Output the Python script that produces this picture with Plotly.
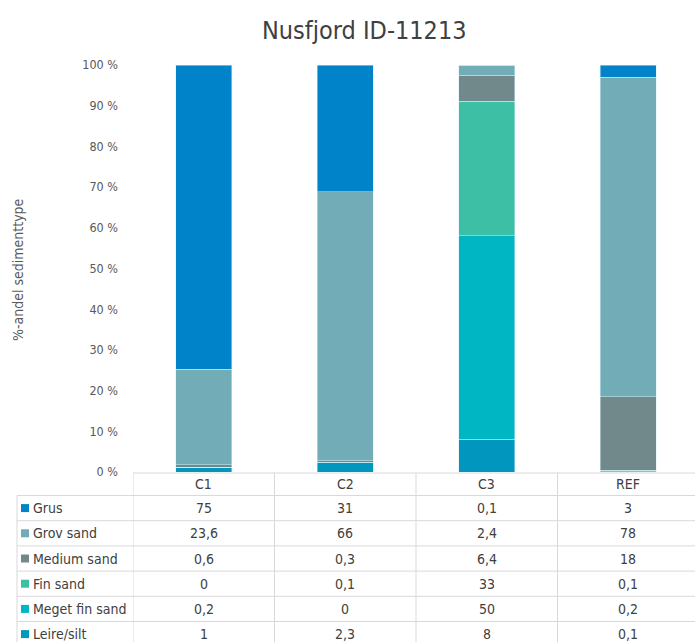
import plotly.graph_objects as go

# Sediment composition per station (percent)
stations = ["C1", "C2", "C3", "REF"]
series_names = ["Grus", "Grov sand", "Medium sand", "Fin sand", "Meget fin sand", "Leire/silt"]
grus = [75, 31, 0.1, 3]
grov_sand = [23.6, 66, 2.4, 78]
medium_sand = [0.6, 0.3, 6.4, 18]
fin_sand = [0, 0.1, 33, 0.1]
meget_fin_sand = [0.2, 0, 50, 0.2]
leire_silt = [1, 2.3, 8, 0.1]
y_ticks = [0, 10, 20, 30, 40, 50, 60, 70, 80, 90, 100]
y_tick_labels = [f"{t} %" for t in y_ticks]

values = {
    "Grus": grus,
    "Grov sand": grov_sand,
    "Medium sand": medium_sand,
    "Fin sand": fin_sand,
    "Meget fin sand": meget_fin_sand,
    "Leire/silt": leire_silt,
}
colors = {
    "Grus": "#0083C8",
    "Grov sand": "#72ADB7",
    "Medium sand": "#71898A",
    "Fin sand": "#3DBFA5",
    "Meget fin sand": "#00B6C3",
    "Leire/silt": "#0096BE",
}

W, H = 695, 642
FONT = "DejaVu Sans Condensed, Liberation Sans Narrow, Liberation Sans, Arial"


def px(x):
    return x / W


def py(y):
    return 1 - y / H


fig = go.Figure()
# stacking order from the bottom up
for name in reversed(series_names):
    fig.add_trace(go.Bar(
        x=stations, y=values[name], name=name,
        marker=dict(color=colors[name], line=dict(color="rgba(215,238,248,0.8)", width=0.6)),
        showlegend=False,
    ))

plot_left, plot_top, plot_bottom = 133, 65, 472
col_w = 141.5
x_end = -0.5 + (W - plot_left) / col_w

fig.update_layout(
    template="none",
    width=W, height=H, autosize=False,
    margin=dict(l=0, r=0, t=0, b=0, pad=0),
    paper_bgcolor="white", plot_bgcolor="white",
    barmode="stack", barnorm="percent", bargap=0.604,
    font=dict(family=FONT, color="#595959", size=13),
    xaxis=dict(domain=[px(plot_left), 1], range=[-0.5, x_end], showticklabels=False,
               automargin=False, showgrid=False, zeroline=False, showline=False, ticks=""),
    yaxis=dict(domain=[py(plot_bottom), py(plot_top)], range=[0, 100], tickmode="array",
               tickvals=y_ticks, ticktext=y_tick_labels, automargin=False, showgrid=False,
               zeroline=False, showline=False, ticks="", ticklabelstandoff=14,
               tickfont=dict(size=12.5, color="#595959")),
)

annotations = []
shapes = []

# chart title and axis title
annotations.append(dict(text="Nusfjord ID-11213", x=px(365), y=py(30), xref="paper", yref="paper",
                        xanchor="center", yanchor="middle", showarrow=False,
                        font=dict(size=25, color="#404040", family=FONT)))
annotations.append(dict(text="%-andel sedimenttype", x=px(18), y=py(270), xref="paper", yref="paper",
                        xanchor="center", yanchor="middle", textangle=-90, showarrow=False,
                        font=dict(size=14, color="#595959", family=FONT)))

# data table under the bars
grid = "#d9d9d9"
header_top, header_bot = 473, 495.5
row_h = 25.2
row_tops = [header_bot + i * row_h for i in range(len(series_names))]
label_left = 17

shapes.append(dict(type="line", xref="x", yref="paper", x0=-0.5, x1=x_end + 0.1,
                   y0=py(header_top), y1=py(header_top), line=dict(color=grid, width=1)))
for yt in row_tops:
    shapes.append(dict(type="line", xref="paper", yref="paper", x0=px(label_left), x1=1,
                       y0=py(yt), y1=py(yt), line=dict(color=grid, width=1)))
shapes.append(dict(type="line", xref="paper", yref="paper", x0=px(label_left), x1=px(label_left),
                   y0=py(header_bot), y1=0, line=dict(color=grid, width=1)))
for i in range(len(stations)):
    shapes.append(dict(type="line", xref="x", yref="paper", x0=i - 0.5, x1=i - 0.5,
                       y0=py(header_top), y1=0, line=dict(color=grid, width=1)))

for i, st in enumerate(stations):
    annotations.append(dict(text=st, x=i, y=py((header_top + header_bot) / 2), xref="x", yref="paper",
                            xanchor="center", yanchor="middle", showarrow=False,
                            font=dict(size=14, color="#404040", family=FONT)))

for r, name in enumerate(series_names):
    yc = row_tops[r] + row_h / 2
    shapes.append(dict(type="rect", xref="paper", yref="paper", x0=px(21), x1=px(29),
                       y0=py(yc + 4), y1=py(yc - 4), fillcolor=colors[name], line=dict(width=0)))
    annotations.append(dict(text=name, x=px(31), y=py(yc), xref="paper", yref="paper",
                            xanchor="left", yanchor="middle", showarrow=False,
                            font=dict(size=14, color="#404040", family=FONT)))
    for i, v in enumerate(values[name]):
        label = f"{v:g}".replace(".", ",")
        annotations.append(dict(text=label, x=i, y=py(yc), xref="x", yref="paper",
                                xanchor="center", yanchor="middle", showarrow=False,
                                font=dict(size=14, color="#404040", family=FONT)))

fig.update_layout(annotations=annotations, shapes=shapes)
fig.write_html("out.html")
